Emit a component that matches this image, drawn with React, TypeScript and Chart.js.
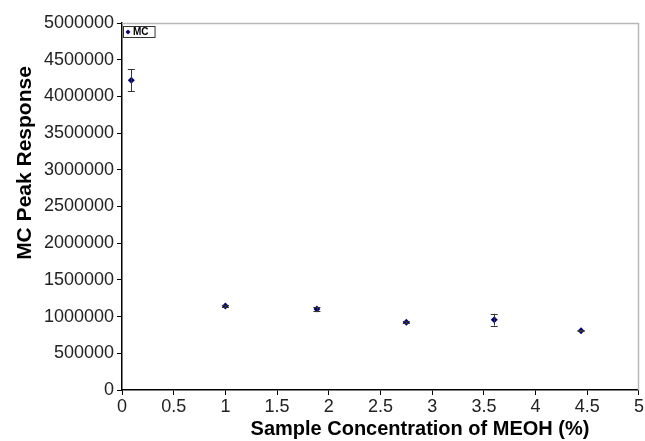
import React, { useEffect, useRef } from "react";
import { Chart, registerables } from "chart.js";

Chart.register(...registerables);

const concentrations = [0.09, 1.0, 1.885, 2.75, 3.6, 4.44];
const peakResponse = [4220000, 1145000, 1103000, 922000, 958000, 808000];
const errorValues = [150000, 15000, 30000, 15000, 80000, 10000];
const seriesLabel = "MC";
const xTitle = "Sample Concentration of MEOH (%)";
const yTitle = "MC Peak Response";

const FONT = "'Liberation Sans', Arial, sans-serif";

const decorPlugin = {
  id: "decor",
  afterDatasetsDraw(chart: any) {
    const { ctx, chartArea, scales } = chart;
    const xs = scales.x;
    const ys = scales.y;
    ctx.save();
    // plot border top & right
    ctx.strokeStyle = "#b8b8b8";
    ctx.lineWidth = 1.5;
    ctx.beginPath();
    ctx.moveTo(chartArea.left, chartArea.top + 0.5);
    ctx.lineTo(chartArea.right - 0.5, chartArea.top + 0.5);
    ctx.lineTo(chartArea.right - 0.5, chartArea.bottom);
    ctx.stroke();
    // error bars
    ctx.strokeStyle = "#333333";
    ctx.lineWidth = 1;
    const meta = chart.getDatasetMeta(0);
    meta.data.forEach((pt: any, i: number) => {
      const px = xs.getPixelForValue(concentrations[i]);
      const top = ys.getPixelForValue(peakResponse[i] + errorValues[i]);
      const bot = ys.getPixelForValue(peakResponse[i] - errorValues[i]);
      ctx.beginPath();
      ctx.moveTo(Math.round(px) + 0.5, top);
      ctx.lineTo(Math.round(px) + 0.5, bot);
      ctx.moveTo(px - 3.5, Math.round(top) + 0.5);
      ctx.lineTo(px + 3.5, Math.round(top) + 0.5);
      ctx.moveTo(px - 3.5, Math.round(bot) + 0.5);
      ctx.lineTo(px + 3.5, Math.round(bot) + 0.5);
      ctx.stroke();
    });
    // legend box
    const lx = chartArea.left + 1;
    const ly = chartArea.top + 3;
    ctx.font = `bold 10px ${FONT}`;
    const tw = ctx.measureText(seriesLabel).width;
    const bw = tw + 16;
    const bh = 11;
    ctx.fillStyle = "#ffffff";
    ctx.fillRect(lx, ly, bw, bh);
    ctx.strokeStyle = "#333333";
    ctx.lineWidth = 1;
    ctx.strokeRect(lx + 0.5, ly + 0.5, bw, bh);
    ctx.fillStyle = "#000080";
    const mx = lx + 5;
    const my = ly + bh / 2 + 0.5;
    ctx.beginPath();
    ctx.moveTo(mx, my - 2.5);
    ctx.lineTo(mx + 2.5, my);
    ctx.lineTo(mx, my + 2.5);
    ctx.lineTo(mx - 2.5, my);
    ctx.closePath();
    ctx.fill();
    ctx.fillStyle = "#000000";
    ctx.textBaseline = "middle";
    ctx.textAlign = "left";
    ctx.fillText(seriesLabel, lx + 10, my + 0.5);
    // axis titles
    ctx.fillStyle = "#000000";
    ctx.font = `bold 20px ${FONT}`;
    ctx.textAlign = "center";
    ctx.textBaseline = "middle";
    ctx.fillText(xTitle, 420, 429);
    ctx.save();
    ctx.translate(25, 163);
    ctx.rotate(-Math.PI / 2);
    ctx.font = `bold 21px ${FONT}`;
    ctx.fillText(yTitle, 0, 0);
    ctx.restore();
    ctx.restore();
  },
};

export default function App() {
  const ref = useRef<HTMLCanvasElement | null>(null);
  useEffect(() => {
    document.body.style.margin = "0";
    const canvas = ref.current;
    if (!canvas) return;
    const chart = new Chart(canvas, {
      type: "scatter",
      data: {
        datasets: [
          {
            label: seriesLabel,
            data: concentrations.map((x, i) => ({ x, y: peakResponse[i] })),
            pointStyle: "rectRot",
            pointRadius: 3.5,
            backgroundColor: "#000080",
            borderColor: "#000080",
            borderWidth: 0,
          },
        ],
      },
      options: {
        animation: false,
        responsive: false,
        maintainAspectRatio: false,
        layout: { padding: { top: 23, right: 5, left: 0, bottom: 0 } },
        plugins: {
          legend: { display: false },
          tooltip: { enabled: false },
        },
        scales: {
          x: {
            type: "linear",
            min: 0,
            max: 5,
            afterFit: (s: any) => {
              s.height = 51;
            },
            ticks: {
              stepSize: 0.5,
              color: "#222222",
              padding: 1,
              maxRotation: 0,
              autoSkip: false,
              font: { family: FONT, size: 18 },
              callback: (v: any) => String(v),
            },
            grid: {
              drawOnChartArea: false,
              drawTicks: true,
              tickLength: 5,
              color: "#000000",
            },
            border: { color: "#000000", width: 1.5 },
          },
          y: {
            min: 0,
            max: 5000000,
            afterFit: (s: any) => {
              s.width = 122;
            },
            ticks: {
              stepSize: 500000,
              color: "#222222",
              padding: 3,
              font: { family: FONT, size: 18 },
              callback: (v: any) => String(v),
            },
            grid: {
              drawOnChartArea: false,
              drawTicks: true,
              tickLength: 5,
              color: "#000000",
            },
            border: { color: "#000000", width: 1.5 },
          },
        },
      },
      plugins: [decorPlugin],
    });
    return () => chart.destroy();
  }, []);
  return (
    <div style={{ width: 645, height: 441, background: "#ffffff" }}>
      <canvas ref={ref} width={645} height={441} style={{ display: "block" }} />
    </div>
  );
}
